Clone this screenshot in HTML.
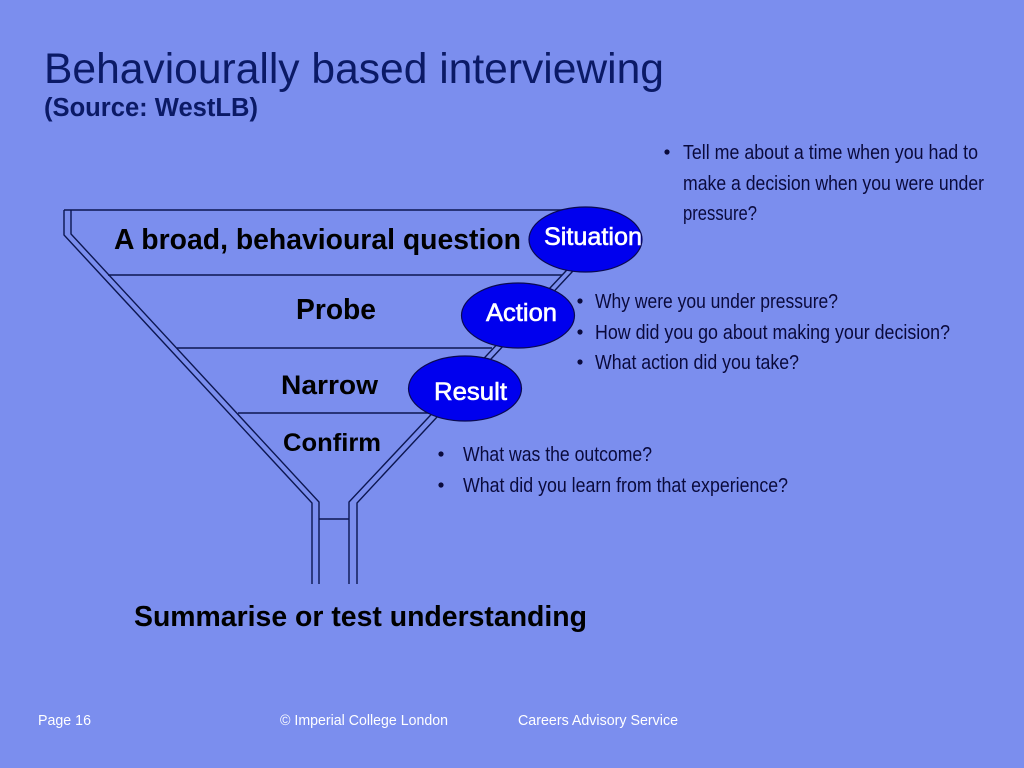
<!DOCTYPE html>
<html>
<head>
<meta charset="utf-8">
<style>
html,body{margin:0;padding:0;background:#7b8eee;width:1024px;height:768px;overflow:hidden}
svg{display:block}
text{font-family:"Liberation Sans",sans-serif}
.b{font-weight:bold;fill:#000}
.n{font-weight:normal;fill:#fff;font-size:25px;stroke:#fff;stroke-width:.6px}
.c{font-size:20.500px;fill:#0a0a3c}
.f{font-size:14.500px;fill:#fff}
</style>
</head>
<body>
<svg width="1024" height="768" viewBox="0 0 1024 768" xmlns="http://www.w3.org/2000/svg">
<rect width="1024" height="768" fill="#7b8eee"/>
<text x="44" y="83" font-size="43" fill="#0b1a66" textLength="620" lengthAdjust="spacingAndGlyphs">Behaviourally based interviewing</text>
<text x="44" y="116" font-size="25.500" font-weight="bold" fill="#0b1a66" textLength="214" lengthAdjust="spacingAndGlyphs">(Source: WestLB)</text>

<g fill="none" stroke="#0c1650" stroke-width="1.400">
<path d="M64 210V235L312 503V584"/>
<path d="M71 210V234L319 502V584"/>
<path d="M349 584V502L565 272L590 245"/>
<path d="M357 584V503L572 272L597 245"/>
<path d="M64 210H585"/>
<path d="M108 275H562"/>
<path d="M177 348H492"/>
<path d="M238 413H430"/>
<path d="M319 519H349"/>
</g>

<ellipse cx="585.500" cy="239.500" rx="56.500" ry="32.500" fill="#0000ee" stroke="#0a0a50" stroke-width="1.200"/>
<ellipse cx="518" cy="315.500" rx="56.500" ry="32.500" fill="#0000ee" stroke="#0a0a50" stroke-width="1.200"/>
<ellipse cx="465" cy="388.500" rx="56.500" ry="32.500" fill="#0000ee" stroke="#0a0a50" stroke-width="1.200"/>

<text class="n" x="544" y="245" textLength="98" lengthAdjust="spacingAndGlyphs">Situation</text>
<text class="n" x="486" y="321" textLength="71" lengthAdjust="spacingAndGlyphs">Action</text>
<text class="n" x="434" y="400" textLength="73" lengthAdjust="spacingAndGlyphs">Result</text>

<text class="b" x="114" y="249" font-size="29" textLength="407" lengthAdjust="spacingAndGlyphs">A broad, behavioural question</text>
<text class="b" x="296" y="319" font-size="29" textLength="80" lengthAdjust="spacingAndGlyphs">Probe</text>
<text class="b" x="281" y="394" font-size="27" textLength="97" lengthAdjust="spacingAndGlyphs">Narrow</text>
<text class="b" x="283" y="451" font-size="25" textLength="98" lengthAdjust="spacingAndGlyphs">Confirm</text>
<text class="b" x="134" y="626" font-size="29" textLength="453" lengthAdjust="spacingAndGlyphs">Summarise or test understanding</text>

<g fill="#0a0a3c">
<circle cx="667" cy="152" r="2.600"/>
<circle cx="580" cy="301" r="2.600"/><circle cx="580" cy="332" r="2.600"/><circle cx="580" cy="362" r="2.600"/>
<circle cx="441" cy="454" r="2.600"/><circle cx="441" cy="485" r="2.600"/>
</g>

<text class="c" x="683" y="159" textLength="295" lengthAdjust="spacingAndGlyphs">Tell me about a time when you had to</text>
<text class="c" x="683" y="190" textLength="301" lengthAdjust="spacingAndGlyphs">make a decision when you were under</text>
<text class="c" x="683" y="220" textLength="74" lengthAdjust="spacingAndGlyphs">pressure?</text>
<text class="c" x="595" y="308" textLength="243" lengthAdjust="spacingAndGlyphs">Why were you under pressure?</text>
<text class="c" x="595" y="339" textLength="355" lengthAdjust="spacingAndGlyphs">How did you go about making your decision?</text>
<text class="c" x="595" y="369" textLength="204" lengthAdjust="spacingAndGlyphs">What action did you take?</text>
<text class="c" x="463" y="461" textLength="189" lengthAdjust="spacingAndGlyphs">What was the outcome?</text>
<text class="c" x="463" y="492" textLength="325" lengthAdjust="spacingAndGlyphs">What did you learn from that experience?</text>

<text class="f" x="38" y="725" textLength="53" lengthAdjust="spacingAndGlyphs">Page 16</text>
<text class="f" x="280" y="725" textLength="168" lengthAdjust="spacingAndGlyphs">© Imperial College London</text>
<text class="f" x="518" y="725" textLength="160" lengthAdjust="spacingAndGlyphs">Careers Advisory Service</text>
</svg>
</body>
</html>
